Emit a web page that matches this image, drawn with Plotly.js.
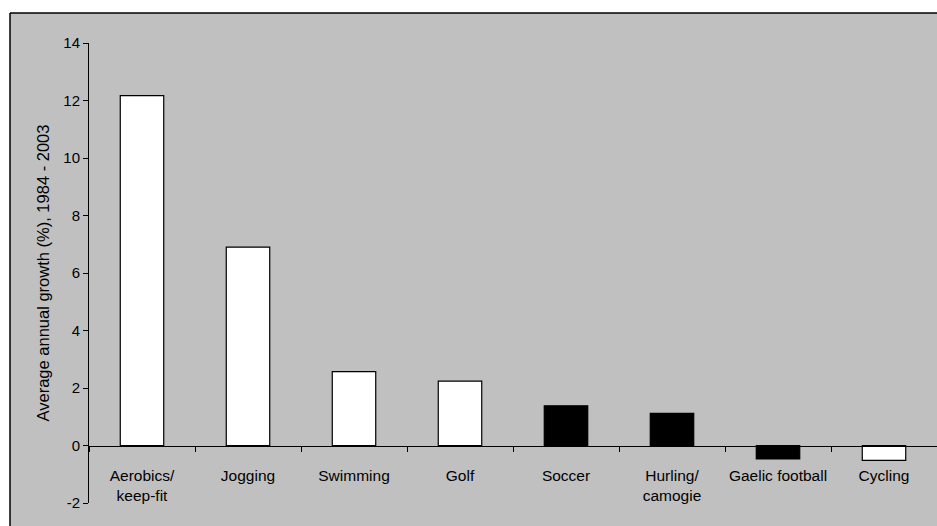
<!DOCTYPE html>
<html>
<head>
<meta charset="utf-8">
<script src="https://cdn.plot.ly/plotly-3.0.1.min.js"></script>
<style>
  html, body { margin: 0; padding: 0; background: #ffffff; overflow: hidden; }
  #chart { width: 937px; height: 526px; }
</style>
</head>
<body>
<div id="chart"></div>
<script>
// ---- data ----
const categories = ["Aerobics/<br>keep-fit", "Jogging", "Swimming", "Golf", "Soccer", "Hurling/<br>camogie", "Gaelic football", "Cycling"];
const growth = [12.17, 6.9, 2.57, 2.24, 1.38, 1.12, -0.47, -0.52];
const sportType = ["individual", "individual", "individual", "individual", "team", "team", "team", "individual"];
const yTicks = [-2, 0, 2, 4, 6, 8, 10, 12, 14];
const yTitle = "Average annual growth (%), 1984 - 2003";

// ---- styling ----
const typeColor = { individual: "#ffffff", team: "#000000" };
const yMin = -2, yMax = 14;
const W = 937, H = 526;
const margin = { l: 89, r: 0, t: 43, b: 23 };
const plotW = W - margin.l - margin.r;
const plotH = H - margin.t - margin.b;
const fontFamily = "Liberation Sans, Arial, sans-serif";
const frameLeft = 10, frameTop = 13;
const px2x = p => (p - margin.l) / plotW;
const py2y = p => (H - margin.b - p) / plotH;

const trace = {
  type: "bar",
  x: categories,
  y: growth,
  width: 0.41,
  marker: {
    color: sportType.map(t => typeColor[t]),
    line: { color: "#000000", width: 1.2 }
  },
  hoverinfo: "x+y"
};

const layout = {
  width: W,
  height: H,
  margin: margin,
  paper_bgcolor: "#c0c0c0",
  plot_bgcolor: "#c0c0c0",
  showlegend: false,
  font: { family: fontFamily, size: 16, color: "#000000" },
  xaxis: {
    type: "category",
    range: [-0.5, categories.length - 0.5],
    anchor: "free",
    position: (0 - yMin) / (yMax - yMin),
    showline: true,
    linecolor: "#000000",
    linewidth: 1,
    ticks: "outside",
    tickson: "boundaries",
    ticklen: 5,
    tickcolor: "#000000",
    tickwidth: 1,
    tickangle: 0,
    ticklabelstandoff: 16,
    showgrid: false,
    zeroline: false,
    tickfont: { family: fontFamily, size: 15.5, color: "#000000" },
    fixedrange: true
  },
  yaxis: {
    range: [yMin, yMax],
    tickvals: yTicks,
    ticktext: yTicks.map(String),
    showline: true,
    linecolor: "#000000",
    linewidth: 1,
    ticks: "outside",
    ticklen: 5,
    tickcolor: "#000000",
    tickwidth: 1,
    showgrid: false,
    zeroline: false,
    tickfont: { family: fontFamily, size: 15, color: "#000000" },
    title: { text: yTitle, font: { family: fontFamily, size: 16.5, color: "#000000" }, standoff: 9 },
    fixedrange: true
  },
  shapes: [
    // white strip above the frame
    { type: "rect", xref: "paper", yref: "paper", layer: "below",
      x0: px2x(-5), x1: px2x(W + 5), y0: py2y(frameTop), y1: py2y(-5),
      fillcolor: "#ffffff", line: { width: 0 } },
    // white strip left of the frame
    { type: "rect", xref: "paper", yref: "paper", layer: "below",
      x0: px2x(-5), x1: px2x(frameLeft), y0: py2y(H + 5), y1: py2y(-5),
      fillcolor: "#ffffff", line: { width: 0 } },
    // frame top edge
    { type: "line", xref: "paper", yref: "paper", layer: "below",
      x0: px2x(frameLeft), x1: px2x(W + 5), y0: py2y(frameTop), y1: py2y(frameTop),
      line: { color: "#000000", width: 1.5 } },
    // frame left edge
    { type: "line", xref: "paper", yref: "paper", layer: "below",
      x0: px2x(frameLeft), x1: px2x(frameLeft), y0: py2y(frameTop), y1: py2y(H + 5),
      line: { color: "#000000", width: 1.5 } }
  ]
};

Plotly.newPlot("chart", [trace], layout, { displayModeBar: false, staticPlot: true });
</script>
</body>
</html>
